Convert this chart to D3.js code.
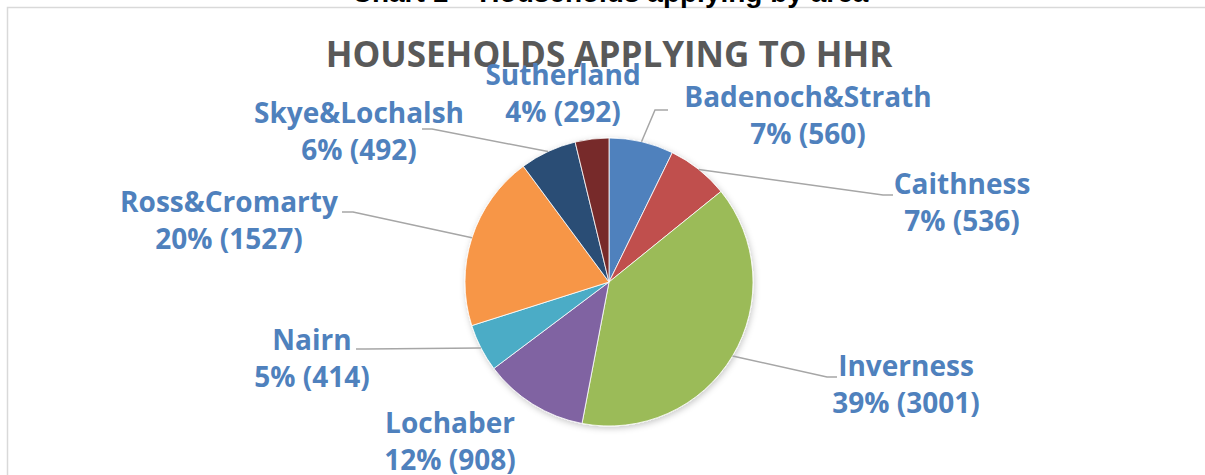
<!DOCTYPE html>
<html>
<head>
<meta charset="utf-8">
<script src="https://cdn.jsdelivr.net/npm/d3@7"></script>
<style>
  body { margin: 0; background: #fff; }
  svg { display: block; }
</style>
</head>
<body>
<svg id="chart"></svg>
<script>
// data
const areas = ['Badenoch&Strath','Caithness','Inverness','Lochaber','Nairn','Ross&Cromarty','Skye&Lochalsh','Sutherland']
const households = [560, 536, 3001, 908, 414, 1527, 492, 292]
const sliceColors = ['#4F81BD','#C0504D','#9BBB59','#8064A2','#4BACC6','#F79646','#2C4D75','#772C2A']

// label layout (hand placed, as in the original)
const labelPos = {
  'Badenoch&Strath': {x: 808, y: 107, end: [668, 110], elbow: [655, 110]},
  'Caithness':       {x: 962, y: 194, end: [893, 195], elbow: [883, 195]},
  'Inverness':       {x: 906, y: 376, end: [837, 377], elbow: [827, 377]},
  'Lochaber':        {x: 450, y: 433},
  'Nairn':           {x: 312, y: 350, end: [356, 349], elbow: [366, 349]},
  'Ross&Cromarty':   {x: 229, y: 212, end: [342, 212], elbow: [353, 212]},
  'Skye&Lochalsh':   {x: 359, y: 123, end: [422, 129], elbow: [432, 129]},
  'Sutherland':      {x: 563, y: 85}
}

const W = 1205, H = 475
const cx = 609, cy = 282, r = 144

const svg = d3.select('#chart')
  .attr('width', W)
  .attr('height', H)

const defs = svg.append('defs')
const shadow = defs.append('filter').attr('id','pieShadow')
  .attr('x','-10%').attr('y','-10%').attr('width','120%').attr('height','120%')
shadow.append('feDropShadow')
  .attr('dx', 1).attr('dy', 2)
  .attr('stdDeviation', 3)
  .attr('flood-color', '#000')
  .attr('flood-opacity', 0.22)

// outer chart frame (runs off the right and bottom of the picture)
svg.append('rect')
  .attr('x', 7.5).attr('y', 7.5)
  .attr('width', W + 20).attr('height', H + 20)
  .attr('fill', 'none')
  .attr('stroke', '#d9d9d9')
  .attr('stroke-width', 1.5)

// document caption, mostly cut off at the top
svg.append('text')
  .attr('x', 610).attr('y', 2)
  .attr('text-anchor', 'middle')
  .style('font-family', '"Liberation Sans", Arial, sans-serif')
  .style('font-weight', 'bold')
  .style('font-size', '28px')
  .attr('fill', '#000')
  .text('Chart 1 \u2013 Households applying by area')

const rows = areas.map((a, i) => ({area: a, value: households[i], color: sliceColors[i]}))
const total = d3.sum(households)

const pie = d3.pie().sort(null).value(d => d.value)
const arcs = pie(rows)
const arc = d3.arc().innerRadius(0).outerRadius(r)
const edge = d3.arc().innerRadius(r).outerRadius(r)

const g = svg.append('g').attr('transform', `translate(${cx},${cy})`)

// leader lines first, the pie sits on top of them
const leaders = svg.append('g')
arcs.forEach(d => {
  const p = labelPos[d.data.area]
  if (!p.end) return
  const c = edge.centroid(d)
  const pts = [[cx + c[0], cy + c[1]], p.elbow, p.end]
  leaders.append('path')
    .attr('d', d3.line()(pts))
    .attr('fill', 'none')
    .attr('stroke', '#a6a6a6')
    .attr('stroke-width', 1.5)
})

g.append('g')
  .attr('filter', 'url(#pieShadow)')
  .selectAll('path')
  .data(arcs)
  .enter()
  .append('path')
  .attr('d', arc)
  .attr('fill', d => d.data.color)
  .attr('stroke', '#fff')
  .attr('stroke-width', 0.8)

svg.append('text')
  .attr('x', 609).attr('y', 67)
  .attr('text-anchor', 'middle')
  .style('font-family', '"Open Sans", "Noto Sans", sans-serif')
  .style('font-weight', 'bold')
  .style('font-size', '35px')
  .attr('fill', '#595959')
  .text('HOUSEHOLDS APPLYING TO HHR')

const labels = svg.append('g')
  .style('font-family', '"Open Sans", "Noto Sans", sans-serif')
  .style('font-weight', 'bold')
  .style('font-size', '28px')
  .attr('fill', '#4F81BD')
  .attr('text-anchor', 'middle')

arcs.forEach(d => {
  const p = labelPos[d.data.area]
  const pct = Math.round(d.data.value / total * 100)
  const t = labels.append('text').attr('x', p.x).attr('y', p.y)
  t.append('tspan').attr('x', p.x).text(d.data.area)
  t.append('tspan').attr('x', p.x).attr('dy', 37).text(`${pct}% (${d.data.value})`)
})
</script>
</body>
</html>
